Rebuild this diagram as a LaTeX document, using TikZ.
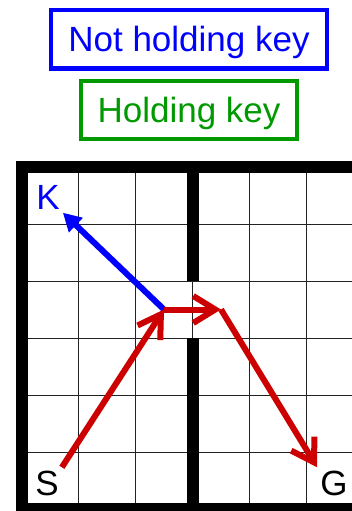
\documentclass[tikz,border=0pt]{standalone}
\usepackage{fontspec}
\setmainfont{Liberation Sans}
\usepackage{xcolor}
\usepackage{tikz}
\usetikzlibrary{positioning,arrows.meta}
\definecolor{cBlue}{HTML}{0000FF}
\definecolor{cGreen}{HTML}{009900}
\definecolor{cRed}{HTML}{CC0000}
\definecolor{cGrid}{HTML}{222222}

\begin{document}
\begin{tikzpicture}[
  x=1pt,y=-1pt,
  font=\fontsize{35}{40}\selectfont,
  legend/.style={draw,line width=4pt,inner xsep=17pt,minimum height=58pt,text height=25pt,text depth=0pt},
  wall/.style={line width=12pt},
  mark label/.style={inner sep=3pt,text height=25pt,text depth=0pt},
  keyar/.style={cBlue,line width=6pt,-{Triangle[length=18pt,width=19pt]}},
  goar/.style={cRed,line width=6pt,-{Straight Barb[length=22pt,width=27pt]}}
]
\useasboundingbox (0,0) rectangle (352,511);
\clip (0,0) rectangle (352,511);
% legend
\node[legend,draw=cBlue,text=cBlue] (nokey) at (189,39.5) {Not holding key};
\node[legend,draw=cGreen,text=cGreen,below=8pt of nokey] (haskey) {Holding key};
% grid and walls
\foreach \i in {1,...,5}{
  \draw[cGrid,line width=1pt] ({21.5+57*\i},167) -- ({21.5+57*\i},509);
  \draw[cGrid,line width=1pt] (21.5,{167+57*\i}) -- (363.5,{167+57*\i});
}
\draw[wall] (21.5,167) rectangle (363.5,509);
\draw[wall] (192.5,167) -- (192.5,281) (192.5,338) -- (192.5,509);
% cells
\node[mark label,text=cBlue] (K) at (48,197) {K};
\node[mark label] (S) at (47,483) {S};
\node[mark label] (G) at (334,483) {G};
\coordinate (door) at (164,309.5);
\coordinate (past) at (221,309.5);
% paths
\draw[keyar] (door) -- (K.south east);
\draw[goar] (S.north east) -- (door);
\draw[goar] (door) -- (past);
\draw[goar] (past) -- (G.north west);
\end{tikzpicture}
\end{document}
